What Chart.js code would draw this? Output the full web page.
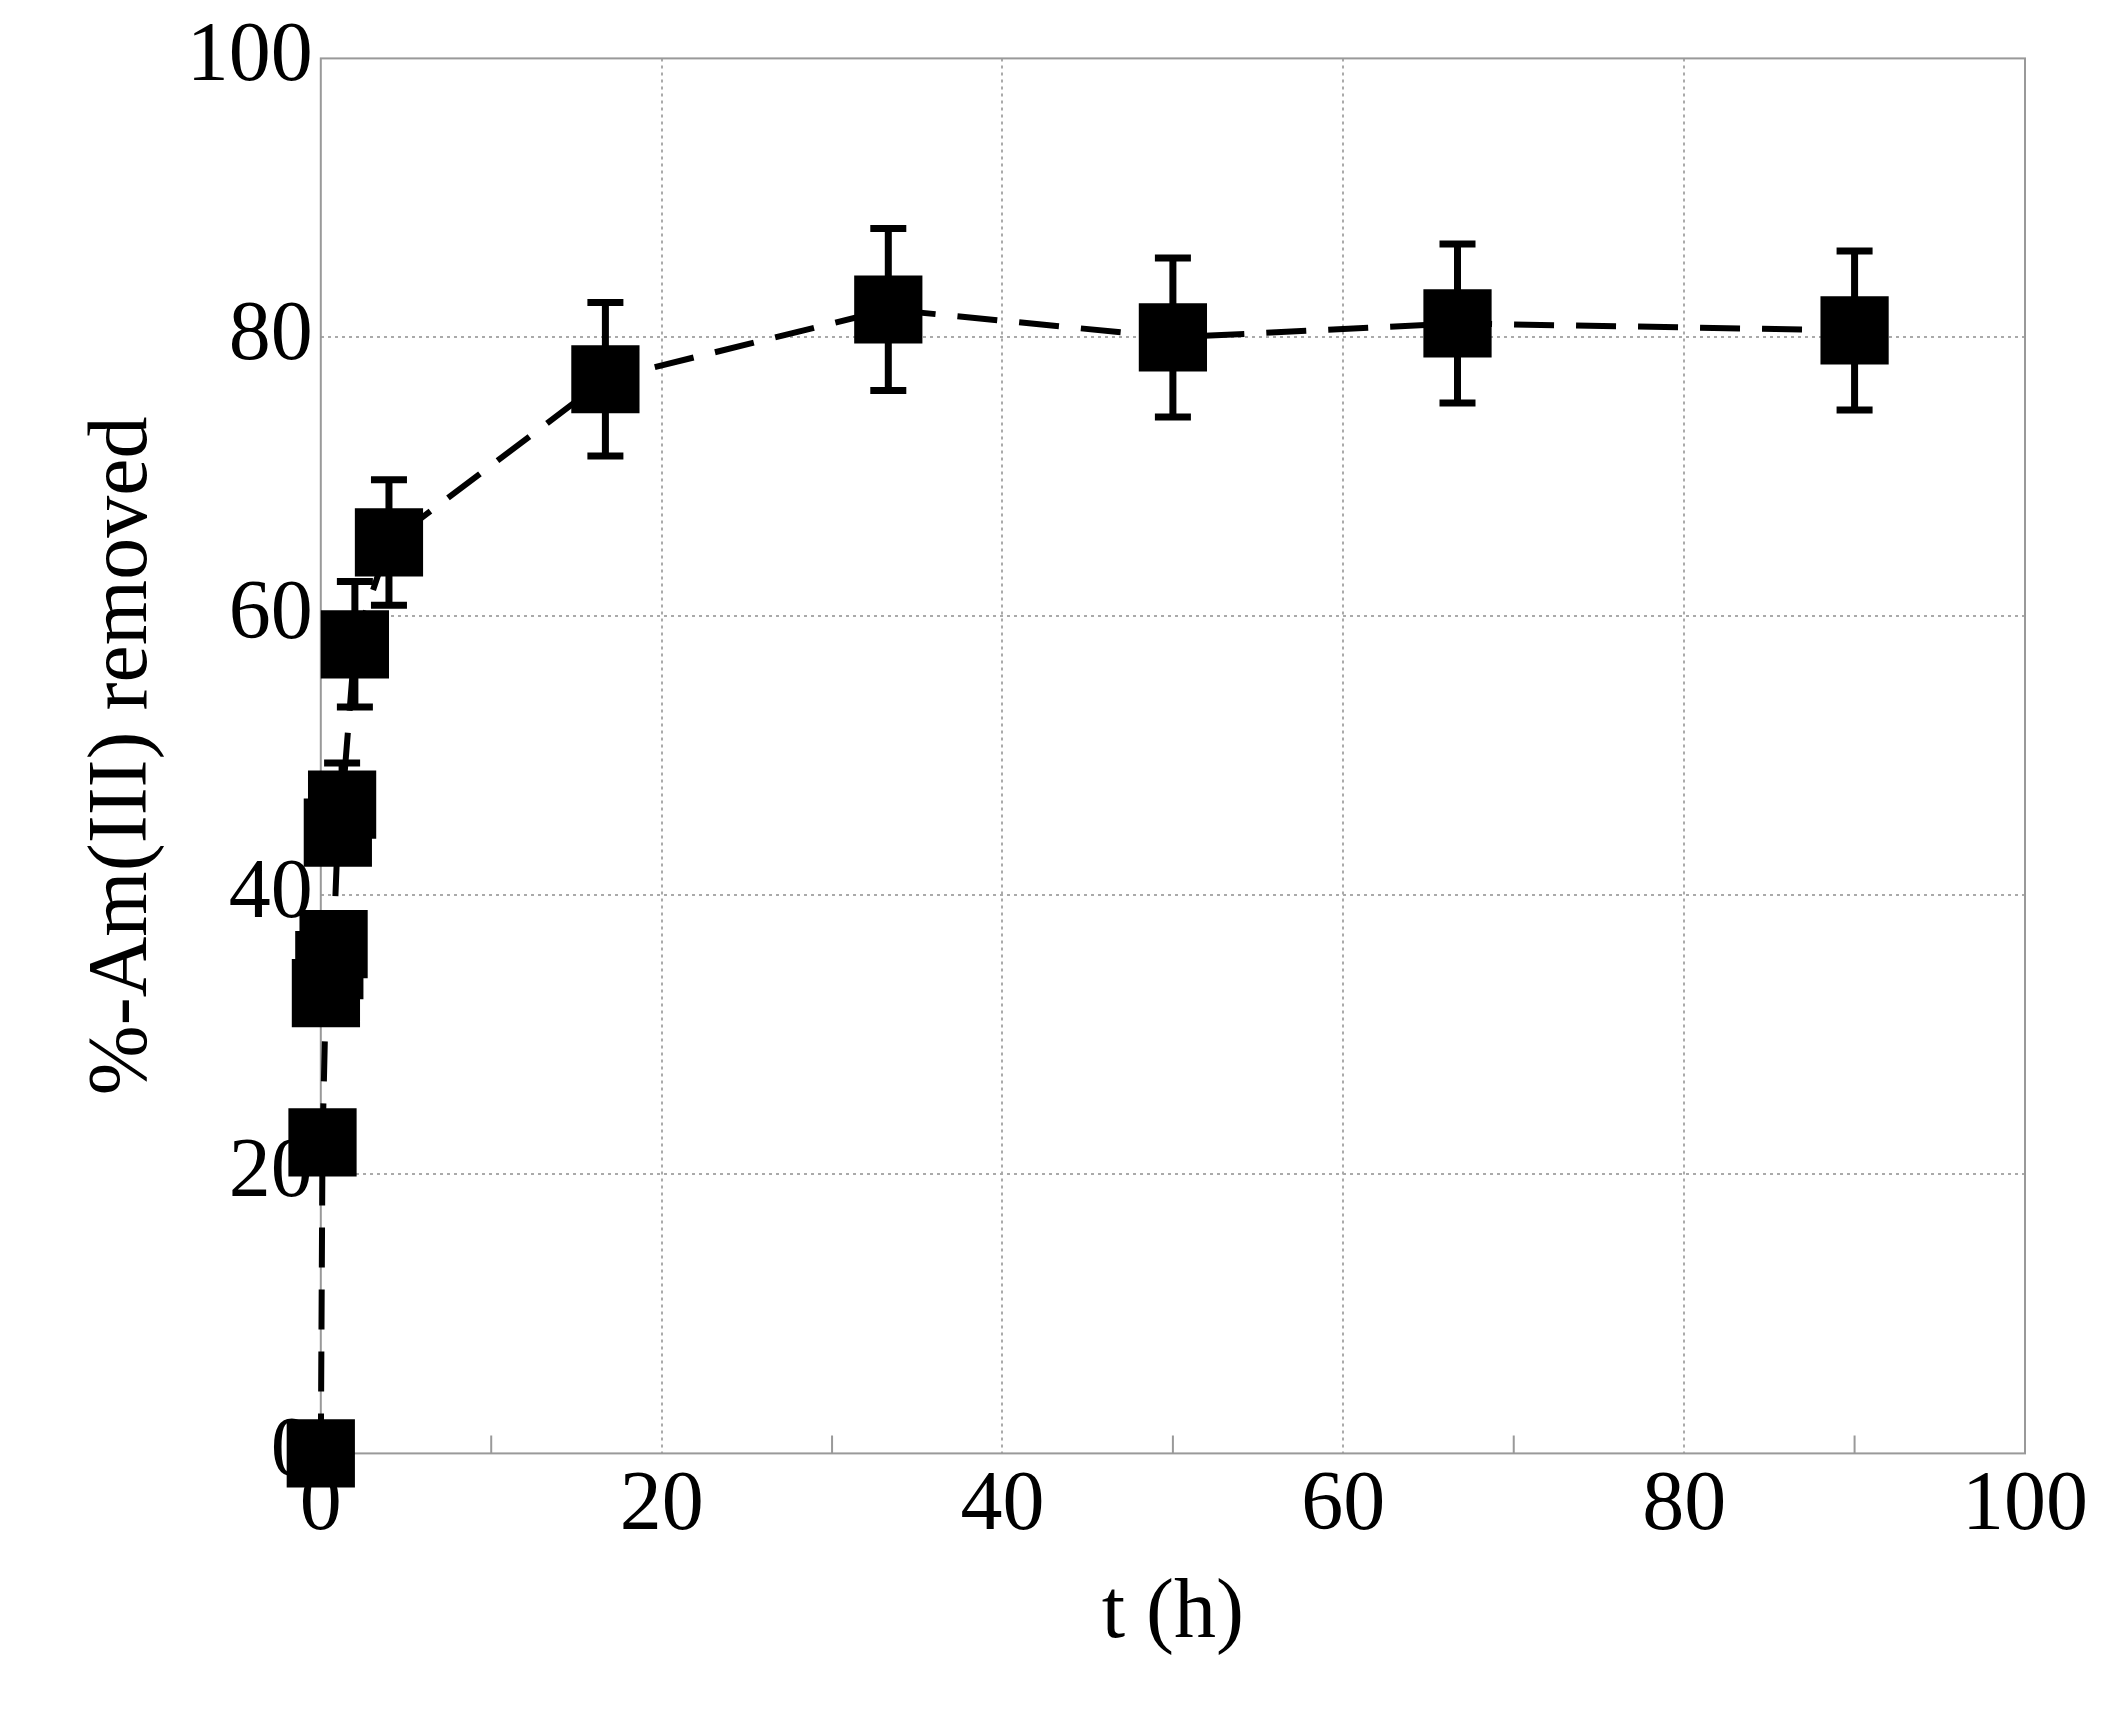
<!DOCTYPE html>
<html><head><meta charset="utf-8">
<script src="https://cdn.jsdelivr.net/npm/chart.js@4"></script>
<style>body{margin:0;background:#fff}#wrap{width:2115px;height:1709px}</style>
</head><body><div id="wrap"><canvas id="c"></canvas></div>
<script>
const times = [0, 0.1, 0.3, 0.5, 0.75, 1, 1.25, 2, 4, 16.7, 33.3, 50, 66.7, 90];
const removed = [0, 22.3, 33, 35, 36.5, 44.5, 46.5, 58, 65.3, 77, 82, 80, 81, 80.5];
const errs = [0, 0, 2, 2, 2, 2, 3, 4.5, 4.5, 5.5, 5.8, 5.7, 5.7, 5.7];

const errorBars = {
  id: "errorBars",
  afterDatasetsDraw(chart) {
    const { ctx, scales: { x, y } } = chart;
    ctx.save();
    ctx.strokeStyle = "#000";
    ctx.lineWidth = 7;
    times.forEach((t, i) => {
      if (!errs[i]) return;
      const px = x.getPixelForValue(t);
      const top = y.getPixelForValue(removed[i] + errs[i]);
      const bot = y.getPixelForValue(removed[i] - errs[i]);
      ctx.beginPath();
      ctx.moveTo(px, top); ctx.lineTo(px, bot);
      ctx.moveTo(px - 18, top); ctx.lineTo(px + 18, top);
      ctx.moveTo(px - 18, bot); ctx.lineTo(px + 18, bot);
      ctx.stroke();
    });
    ctx.restore();
  }
};

const font = { family: "Liberation Serif", size: 84 };
new Chart(document.getElementById("c"), {
  type: "scatter",
  data: {
    datasets: [{
      data: times.map((t, i) => ({ x: t, y: removed[i] })),
      showLine: true,
      borderColor: "#000",
      borderWidth: 6,
      borderDash: [40, 22],
      pointStyle: "rect",
      pointRadius: 44,
      pointBackgroundColor: "#000",
      pointBorderColor: "#000",
      clip: false
    }]
  },
  options: {
    responsive: true,
    maintainAspectRatio: false,
    animation: false,
    layout: { padding: { top: 42, right: 90, left: 70, bottom: 40 } },
    plugins: { legend: { display: false }, tooltip: { enabled: false } },
    scales: {
      x: {
        min: 0, max: 100,
        ticks: { stepSize: 10, color: "#000", font,
          callback: v => (v % 20 === 0 ? v : "") },
        grid: { color: c => (c.tick && c.tick.value % 20 === 0 && c.tick.value > 0 && c.tick.value < 100 ? "#aaa" : "rgba(0,0,0,0)"),
          lineWidth: 2, drawTicks: false },
        border: { display: false, dash: [3, 4] },
        title: { display: true, text: "t (h)", color: "#000", font }
      },
      y: {
        min: 0, max: 100,
        ticks: { stepSize: 20, color: "#000", font, padding: 8 },
        grid: { color: c => (c.tick && c.tick.value > 0 && c.tick.value < 100 ? "#aaa" : "rgba(0,0,0,0)"),
          lineWidth: 2, drawTicks: false },
        border: { display: false, dash: [3, 4] },
        title: { display: true, text: "%-Am(III) removed", color: "#000", font }
      }
    }
  },
  plugins: [{
    id: "frame",
    beforeDatasetsDraw(chart) {
      const { ctx, chartArea: a, scales: { x } } = chart;
      ctx.save(); ctx.strokeStyle = "#999"; ctx.lineWidth = 2;
      ctx.strokeRect(a.left, a.top, a.right - a.left, a.bottom - a.top);
      ctx.beginPath();
      [10, 30, 50, 70, 90].forEach(v => {
        const px = x.getPixelForValue(v);
        ctx.moveTo(px, a.bottom); ctx.lineTo(px, a.bottom - 18);
      });
      ctx.stroke(); ctx.restore();
    }
  }, errorBars]
});
</script></body></html>
